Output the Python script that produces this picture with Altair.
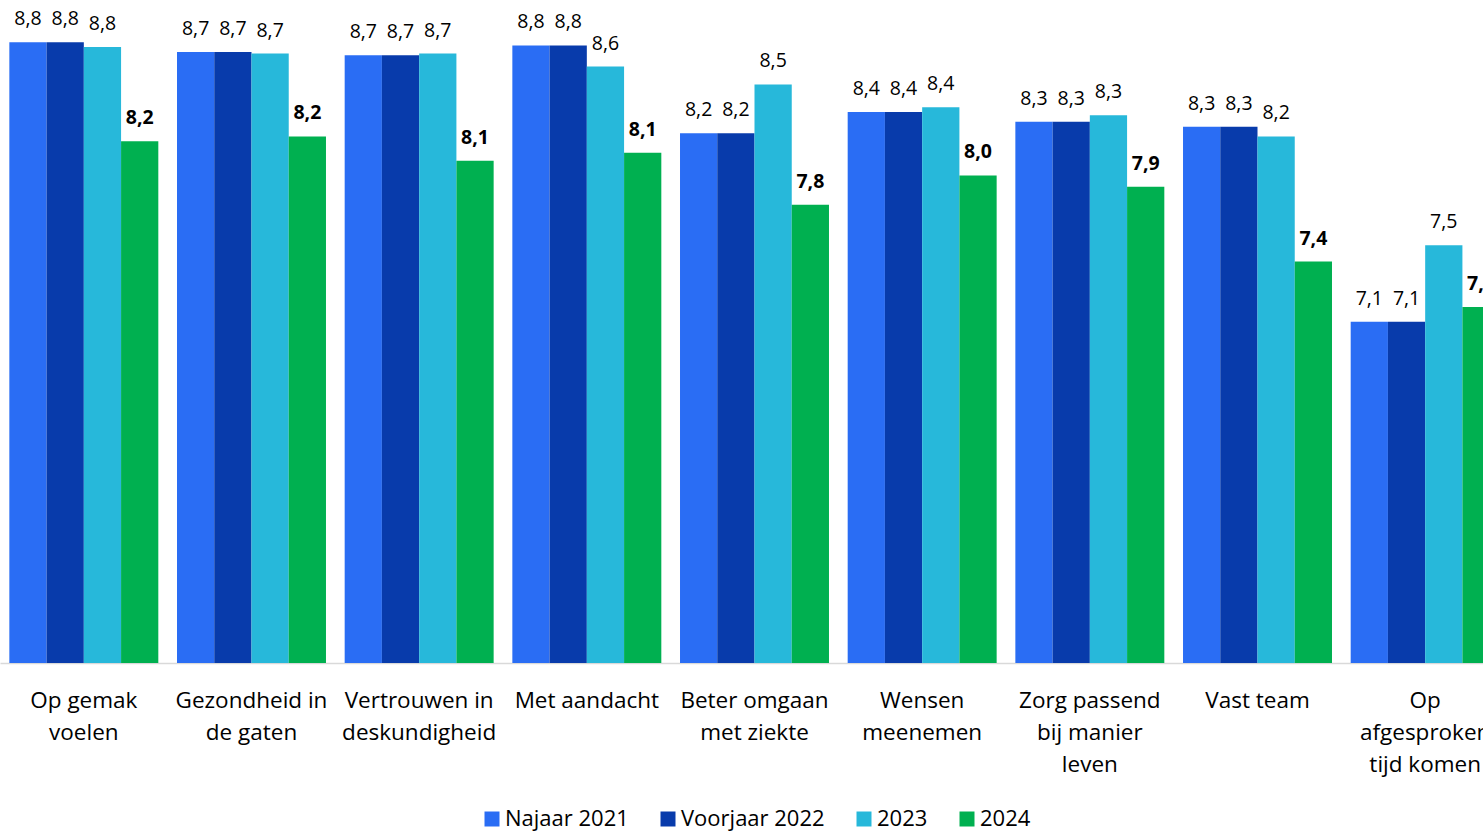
import json
import altair as alt
import pandas as pd

categories = [
    "Op gemak voelen",
    "Gezondheid in de gaten",
    "Vertrouwen in deskundigheid",
    "Met aandacht",
    "Beter omgaan met ziekte",
    "Wensen meenemen",
    "Zorg passend bij manier leven",
    "Vast team",
    "Op afgesproken tijd komen",
]
label_lines = [
    ["Op gemak", "voelen"],
    ["Gezondheid in", "de gaten"],
    ["Vertrouwen in", "deskundigheid"],
    ["Met aandacht"],
    ["Beter omgaan", "met ziekte"],
    ["Wensen", "meenemen"],
    ["Zorg passend", "bij manier", "leven"],
    ["Vast team"],
    ["Op", "afgesproken", "tijd komen"],
]
series = ["Najaar 2021", "Voorjaar 2022", "2023", "2024"]
colors = ["#2A6DF4", "#083BAB", "#27B8DA", "#00B050"]

najaar_2021 = [8.79, 8.73, 8.71, 8.77, 8.23, 8.36, 8.30, 8.27, 7.07]
voorjaar_2022 = [8.79, 8.73, 8.71, 8.77, 8.23, 8.36, 8.30, 8.27, 7.07]
jaar_2023 = [8.76, 8.72, 8.72, 8.64, 8.53, 8.39, 8.34, 8.21, 7.54]
jaar_2024 = [8.18, 8.21, 8.06, 8.11, 7.79, 7.97, 7.90, 7.44, 7.16]

rows = []
for s, vals in zip(series, [najaar_2021, voorjaar_2022, jaar_2023, jaar_2024]):
    for c, v in zip(categories, vals):
        rows.append({"categorie": c, "reeks": s, "waarde": v})
df = pd.DataFrame(rows)

label_expr = json.dumps(dict(zip(categories, label_lines)), ensure_ascii=False) + "[datum.label]"

FONT = "Open Sans"

x = alt.X(
    "categorie:N",
    sort=categories,
    scale=alt.Scale(range=[0, 1509], paddingInner=0.1115, paddingOuter=0.0557),
    axis=alt.Axis(
        title=None,
        labelAngle=0,
        labelExpr=label_expr,
        ticks=False,
        domain=True,
        domainColor="#D9D9D9",
        domainWidth=1.5,
        labelFont=FONT,
        labelFontSize=22.5,
        labelColor="#000000",
        labelLineHeight=32,
        labelPadding=26,
        labelLimit=400,
        labelOverlap=False,
        labelBaseline="top",
    ),
)
xo = alt.XOffset("reeks:N", sort=series, scale=alt.Scale(paddingInner=0, paddingOuter=0))
y = alt.Y("waarde:Q", scale=alt.Scale(domain=[4.97, 9.0], zero=False, nice=False), axis=None)

bars = alt.Chart(df).mark_bar(clip=True).encode(
    x=x,
    xOffset=xo,
    y=y,
    color=alt.Color(
        "reeks:N",
        sort=series,
        scale=alt.Scale(domain=series, range=colors),
        legend=alt.Legend(
            orient="none",
            legendX=481,
            legendY=800,
            direction="horizontal",
            title=None,
            symbolType="square",
            symbolSize=225,
            symbolStrokeWidth=0,
            symbolOpacity=1,
            labelFont=FONT,
            labelFontSize=22,
            labelColor="#000000",
            labelOffset=2,
            columnPadding=28,
            padding=0,
        ),
    ),
)

label_calc = "replace(format(datum.waarde, '.1f'), '.', ',')"

text_normal = (
    alt.Chart(df)
    .transform_filter(alt.datum.reeks != "2024")
    .transform_calculate(label=label_calc)
    .mark_text(baseline="alphabetic", dy=-17, font=FONT, fontSize=19.5, color="#000000")
    .encode(x=x, xOffset=xo, y=y, text="label:N")
)
text_bold = (
    alt.Chart(df)
    .transform_filter(alt.datum.reeks == "2024")
    .transform_calculate(label=label_calc)
    .mark_text(baseline="alphabetic", dy=-17, font=FONT, fontSize=19.5, fontWeight="bold", color="#000000")
    .encode(x=x, xOffset=xo, y=y, text="label:N")
)

chart = (
    alt.layer(bars, text_normal, text_bold)
    .properties(
        width=1483,
        height=655,
        autosize=alt.AutoSizeParams(type="none"),
        padding={"left": 0, "right": 0, "top": 8, "bottom": 169},
    )
    .configure_view(stroke=None)
)

chart.save("out.html", embed_options={"renderer": "svg", "actions": False})
